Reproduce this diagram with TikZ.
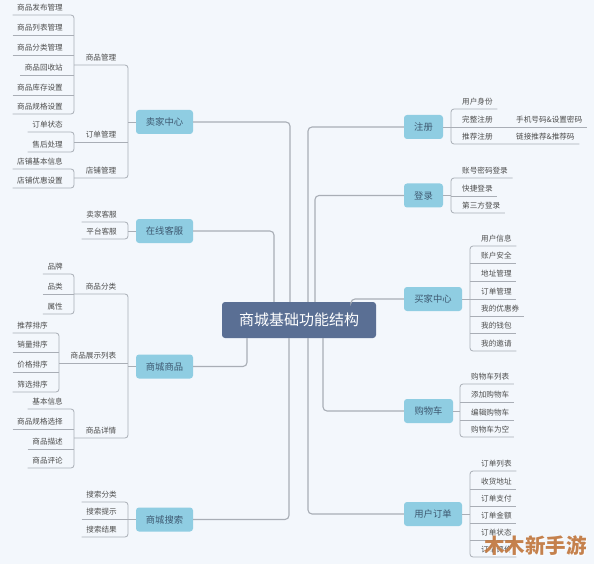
\documentclass[tikz,border=0pt]{standalone}
\usepackage{fontspec}
\setmainfont{Noto Sans CJK SC}
\definecolor{bg}{HTML}{F3F7FC}
\definecolor{bluenode}{HTML}{8FCDE2}
\definecolor{centernode}{HTML}{5A6F94}
\definecolor{linec}{HTML}{A9AEB6}
\definecolor{txt}{HTML}{4D4D4D}
\definecolor{ntxt}{HTML}{3D5870}
\definecolor{wm}{HTML}{BE7135}
\newcommand\leafL[4]{\node[leaf,anchor=east] (#1) at ({#2-6.5},{#3-7.5}) {#4};}
\newcommand\leafR[4]{\node[leaf,anchor=west] (#1) at ({#2+6.5},{#3-7.5}) {#4};}
\newcommand\ulL[3]{\draw[thinconn] (#1.west |- 0,#3) -- (#2,#3);}
\newcommand\ulR[3]{\draw[thinconn] (#2,#3) -- (#1.east |- 0,#3);}
\newcommand\grpL[5]{\draw[thinconn,rounded corners=3pt] (#1.west |- 0,#3) -- (#2,#3) -- (#2,#5) -- (#4.west |- 0,#5);}
\newcommand\grpR[5]{\draw[thinconn,rounded corners=3pt] (#1.east |- 0,#3) -- (#2,#3) -- (#2,#5) -- (#4.east |- 0,#5);}
\begin{document}
\begin{tikzpicture}[x=1pt,y=-1pt,
 leaf/.style={font=\fontsize{7.6}{9}\selectfont, text=txt, inner xsep=4.5pt, inner ysep=0pt},
 lab/.style={font=\fontsize{7.6}{9}\selectfont, text=txt, inner sep=0pt},
 topic/.style={fill=bluenode, rounded corners=3pt, text=ntxt, font=\fontsize{9.3}{11}\selectfont, minimum height=24pt, inner sep=0pt},
 root/.style={fill=centernode, rounded corners=3pt, text=white, font=\fontsize{15}{18}\selectfont, minimum width=154pt, minimum height=36pt, inner sep=0pt},
 thinconn/.style={draw=linec, line width=0.8pt},
 mainconn/.style={draw=linec, line width=1.1pt, rounded corners=4pt}]
\fill[bg] (0,0) rectangle (594,564);
\useasboundingbox (0,0) rectangle (594,564);

% main nodes
\node[root] (center) at (299,320) {商城基础功能结构};
\node[topic, minimum width=57pt] (seller) at (164.5,122) {卖家中心};
\node[topic, minimum width=57pt] (service) at (164.5,231) {在线客服};
\node[topic, minimum width=57pt] (goods) at (164.5,366.5) {商城商品};
\node[topic, minimum width=57pt] (search) at (164.5,519.5) {商城搜索};
\node[topic, minimum width=39pt] (reg) at (423.5,127) {注册};
\node[topic, minimum width=39pt] (login) at (423.5,195.5) {登录};
\node[topic, minimum width=58pt] (buyer) at (433,299) {买家中心};
\node[topic, minimum width=49pt] (cart) at (428.5,411) {购物车};
\node[topic, minimum width=58pt] (order) at (433,514) {用户订单};

% main connectors
\draw[mainconn] (seller.east) -| (center.north -| 290,0);
\draw[mainconn] (service.east) -| (center.north -| 274,0);
\draw[mainconn] (goods.east) -| (center.south -| 247,0);
\draw[mainconn] (search.east) -| (center.south -| 289,0);
\draw[mainconn] (reg.west) -| (center.north -| 308,0);
\draw[mainconn] (login.west) -| (center.north -| 315,0);
\draw[mainconn] (buyer.west) -| (center.north -| 351,0);
\draw[mainconn] (cart.west) -| (center.south -| 323,0);
\draw[mainconn] (order.west) -| (center.south -| 308,0);

% ---------- 卖家中心 ----------
\node[lab] (gm) at (101,57.5) {商品管理};
\node[lab] (om) at (101,134.5) {订单管理};
\node[lab] (sm) at (101,170.5) {店铺管理};
\draw[thinconn,rounded corners=3pt] (74,65) -- (128,65) -- (128,178) -- (74,178);
\draw[thinconn] (74,142) -- (128,142);
\draw[thinconn] (seller.west) -- (128,122);
\leafL{a1}{74}{15}{商品发布管理}
\leafL{a2}{74}{35}{商品列表管理}
\leafL{a3}{74}{55}{商品分类管理}
\leafL{a4}{74}{75}{商品回收站}
\leafL{a5}{74}{95}{商品库存设置}
\leafL{a6}{74}{114}{商品规格设置}
\grpL{a1}{74}{15}{a6}{114}
\ulL{a2}{74}{35}\ulL{a3}{74}{55}\ulL{a4}{74}{75}\ulL{a5}{74}{95}
\leafL{b1}{74}{132}{订单状态}
\leafL{b2}{74}{152}{售后处理}
\grpL{b1}{74}{132}{b2}{152}
\leafL{c1}{74}{169}{店铺基本信息}
\leafL{c2}{74}{188}{店铺优惠设置}
\grpL{c1}{74}{169}{c2}{188}

% ---------- 在线客服 ----------
\leafL{k1}{128}{222}{卖家客服}
\leafL{k2}{128}{239}{平台客服}
\grpL{k1}{128}{222}{k2}{239}
\draw[thinconn] (service.west) -- (128,231);

% ---------- 商城商品 ----------
\node[lab] (gc) at (101,286.5) {商品分类};
\node[lab] (gl) at (93.5,355.5) {商品展示列表};
\node[lab] (gd) at (101,430.5) {商品详情};
\draw[thinconn,rounded corners=3pt] (74,294) -- (128,294) -- (128,438) -- (74,438);
\draw[thinconn] (59,363) -- (128,363);
\draw[thinconn] (goods.west) -- (128,366.5);
\leafL{d1}{74}{274}{品牌}
\leafL{d2}{74}{294}{品类}
\leafL{d3}{74}{314}{属性}
\grpL{d1}{74}{274}{d3}{314}
\ulL{d2}{74}{294}
\leafL{e1}{59}{333}{推荐排序}
\leafL{e2}{59}{352}{销量排序}
\leafL{e3}{59}{372}{价格排序}
\leafL{e4}{59}{392}{筛选排序}
\grpL{e1}{59}{333}{e4}{392}
\ulL{e2}{59}{352}\ulL{e3}{59}{372}
\leafL{f1}{74}{409}{基本信息}
\leafL{f2}{74}{429}{商品规格选择}
\leafL{f3}{74}{449}{商品描述}
\leafL{f4}{74}{468}{商品评论}
\grpL{f1}{74}{409}{f4}{468}
\ulL{f2}{74}{429}\ulL{f3}{74}{449}

% ---------- 商城搜索 ----------
\leafL{s1}{128}{502}{搜索分类}
\leafL{s2}{128}{519}{搜索提示}
\leafL{s3}{128}{537}{搜索结果}
\grpL{s1}{128}{502}{s3}{537}
\ulL{s2}{128}{519}
\draw[thinconn] (search.west) -- (128,519.5);

% ---------- 注册 ----------
\leafR{r1}{451}{109}{用户身份}
\leafR{r2}{451}{127}{完整注册}
\leafR{r3}{451}{144}{推荐注册}
\node[leaf,anchor=west] (r2c) at (511.5,119.5) {手机号码\&设置密码};
\node[leaf,anchor=west] (r3c) at (511.5,136.5) {链接推荐\&推荐码};
\grpR{r1}{451}{109}{r3c}{144}
\draw[thinconn] (451,127) -- (r2c.east |- 0,127);
\draw[thinconn] (reg.east) -- (451,127);

% ---------- 登录 ----------
\leafR{l1}{451}{178}{账号密码登录}
\leafR{l2}{451}{196}{快捷登录}
\leafR{l3}{451}{213}{第三方登录}
\grpR{l1}{451}{178}{l3}{213}
\ulR{l2}{451}{196}
\draw[thinconn] (login.east) -- (451,195.5);

% ---------- 买家中心 ----------
\leafR{m1}{470}{246}{用户信息}
\leafR{m2}{470}{263}{账户安全}
\leafR{m3}{470}{281}{地址管理}
\leafR{m4}{470}{299}{订单管理}
\leafR{m5}{470}{316}{我的优惠券}
\leafR{m6}{470}{333}{我的钱包}
\leafR{m7}{470}{351}{我的邀请}
\grpR{m1}{470}{246}{m7}{351}
\ulR{m2}{470}{263}\ulR{m3}{470}{281}\ulR{m4}{470}{299}\ulR{m5}{470}{316}\ulR{m6}{470}{333}
\draw[thinconn] (buyer.east) -- (470,299);

% ---------- 购物车 ----------
\leafR{g1}{460}{384}{购物车列表}
\leafR{g2}{460}{402}{添加购物车}
\leafR{g3}{460}{420}{编辑购物车}
\leafR{g4}{460}{437}{购物车为空}
\grpR{g1}{460}{384}{g4}{437}
\ulR{g2}{460}{402}\ulR{g3}{460}{420}
\draw[thinconn] (cart.east) -- (460,411);

% ---------- 用户订单 ----------
\leafR{o1}{470}{471}{订单列表}
\leafR{o2}{470}{489}{收货地址}
\leafR{o3}{470}{506}{订单支付}
\leafR{o4}{470}{523}{订单金额}
\leafR{o5}{470}{540}{订单状态}
\leafR{o6}{470}{557}{订单评价}
\grpR{o1}{470}{471}{o6}{557}
\ulR{o2}{470}{489}\ulR{o3}{470}{506}\ulR{o4}{470}{523}\ulR{o5}{470}{540}
\draw[thinconn] (order.east) -- (470,514);

% watermark (overlays the last items, as in the reference)
\node[font=\bfseries\fontsize{20.5}{22}\selectfont, text=white, text opacity=0.7, inner sep=0pt] (wmshadow) at (536.3,546.8) {木木新手游};
\node[font=\bfseries\fontsize{20.5}{22}\selectfont, text=wm, text opacity=0.88, inner sep=0pt] (wmark) at (535.5,546) {木木新手游};
\end{tikzpicture}
\end{document}
